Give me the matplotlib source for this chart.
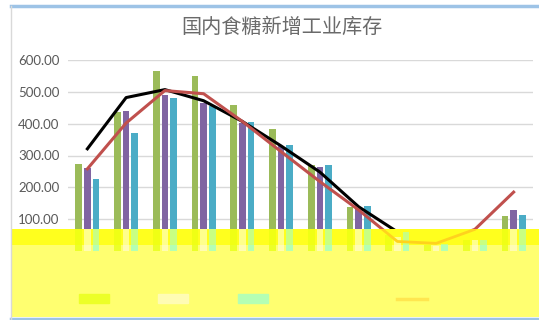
import numpy as np
import matplotlib
matplotlib.use("Agg")
import matplotlib.pyplot as plt
from matplotlib.patches import Rectangle
from matplotlib.lines import Line2D

plt.rcParams['font.family'] = ['Lato', 'Noto Sans CJK SC', 'DejaVu Sans']

months = ['10月', '11月', '12月', '1月', '2月', '3月', '4月', '5月', '6月', '7月', '8月', '9月']
seasons = ['12/13', '13/14', '14/15', '15/16', '16/17']

stock_a = [274, 438, 564, 550, 458, 383, 270, 139, 50, 18, 35, 110]
stock_b = [260, 441, 490, 464, 403, 330, 265, 134, 45, 15, 35, 129]
stock_c = [226, 372, 480, 456, 405, 333, 270, 142, 60, 22, 35, 113]
stock_d = [321, 482, 507, 472, 407, 330, 248, 139, 60, np.nan, np.nan, np.nan]
stock_e = [258, 402, 504, 494, 407, 312, 218, 129, 30, 24, 68, 185]

bar_cols = ['#9BBB59', '#8064A2', '#4BACC6']
# colours of the bars where the yellow bands lie over them
strong_cols = ['#f0ff14', '#ffff8c', '#c8ff82']
light_cols = ['#ecff28', '#fffcb4', '#b4ffb4']
strong_yel = '#ffff1e'
light_yel = '#ffff70'

fig = plt.figure(figsize=(5.39, 3.20), dpi=100)
ax = fig.add_axes([68/539, 69/320, 465/539, 191/320])

x = np.arange(len(months))
w = 0.17
step = 0.222
for i, vals in enumerate([stock_a, stock_b, stock_c]):
    ax.bar(x + (i - 1)*step, vals, w, color=bar_cols[i], zorder=2)
ax.plot(x, stock_d, color='black', lw=2.2, zorder=3)
ax.plot(x, stock_e, color='#C0504D', lw=2.2, zorder=3)

ax.set_xlim(-0.5, 11.5)
ax.set_ylim(0, 600)
ax.set_yticks(np.arange(0, 601, 100))
ax.set_yticklabels(['%.2f' % v for v in np.arange(0, 601, 100)])
ax.set_xticks(x)
ax.set_xticklabels(months)
ax.grid(axis='y', color='#d9d9d9', lw=1)
ax.set_axisbelow(True)
for s in ['top', 'right', 'left']:
    ax.spines[s].set_visible(False)
ax.spines['bottom'].set_color('#d9d9d9')
ax.tick_params(length=0, labelsize=9.5, labelcolor='#595959', pad=6)

fig.text(0.523, 1 - 27/320, '国内食糖新增工业库存', fontsize=14.5, color='#6a6a6a',
         ha='center', va='center', weight='light',
         family=['Noto Sans CJK SC', 'DejaVu Sans'])

# yellow bands over the lower part
x0 = 11/539
band1 = Rectangle((x0, 75/320), 1 - x0, 16/320, transform=fig.transFigure,
                  color=strong_yel, lw=0, zorder=5)
band2 = Rectangle((x0, 3/320), 1 - x0, 72/320, transform=fig.transFigure,
                  color=light_yel, lw=0, zorder=5)
fig.add_artist(band1)
fig.add_artist(band2)

# tinted copies of the marks showing through the bands
top = fig.add_axes(ax.get_position(), zorder=6)
top.set_xlim(ax.get_xlim())
top.set_ylim(ax.get_ylim())
top.axis('off')
clip1 = Rectangle((x0, 75/320), 1 - x0, 16/320, transform=fig.transFigure)
clip2 = Rectangle((x0, 3/320), 1 - x0, 72/320, transform=fig.transFigure)
for i, vals in enumerate([stock_a, stock_b, stock_c]):
    b1 = top.bar(x + (i - 1)*step, vals, w, color=strong_cols[i])
    b2 = top.bar(x + (i - 1)*step, vals, w, color=light_cols[i])
    for p in b1:
        p.set_clip_path(clip1)
    for p in b2:
        p.set_clip_path(clip2)
ln, = top.plot(x, stock_e, color='#ffd21e', lw=2.0)
ln.set_clip_path(clip1)

handles = [Rectangle((0, 0), 1, 1, color=c) for c in light_cols]
handles += [Line2D([], [], color=light_yel, lw=2), Line2D([], [], color='#ffe650', lw=2.5)]
leg = top.legend(handles, seasons, loc='center', ncol=5, frameon=False, fontsize=9,
                 handlelength=2.4, handleheight=0.7, handletextpad=0.4, columnspacing=0.8,
                 labelcolor=light_yel)
leg.set_bbox_to_anchor((0.506, 21/320), transform=fig.transFigure)

# chart frame
fig.add_artist(Line2D([x0, 1], [1 - 5.5/320, 1 - 5.5/320], transform=fig.transFigure,
                      color='#9DC3E6', lw=2.5, zorder=7))
fig.add_artist(Line2D([x0, 1], [1.5/320, 1.5/320], transform=fig.transFigure,
                      color='#9DC3E6', lw=2.5, zorder=7))
fig.add_artist(Line2D([x0, x0], [1.5/320, 1 - 5.5/320], transform=fig.transFigure,
                      color='#d9d9d9', lw=1, zorder=7))

fig.savefig('out.png', dpi=100)
